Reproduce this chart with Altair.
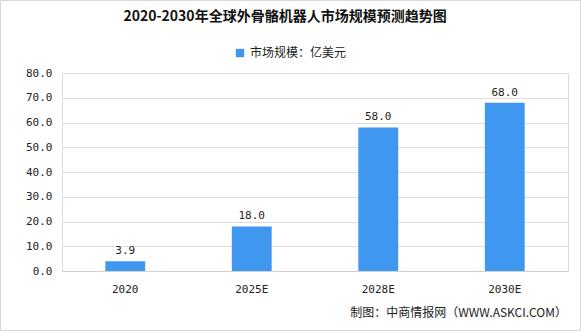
import altair as alt
import pandas as pd

categories = ["2020", "2025E", "2028E", "2030E"]
values = [3.9, 18.0, 58.0, 68.0]
series_name = "市场规模：亿美元"
title_text = ["2020-2030年全球外骨骼机器人市场规模预测趋势图"]
source_text = ["制图：中商情报网（WWW.ASKCI.COM）"]
y_ticks = [0, 10, 20, 30, 40, 50, 60, 70, 80]

df = pd.DataFrame({"year": categories, "value": values, "series": [series_name] * len(categories)})

CJK = "Noto Sans CJK SC"
MONO = "DejaVu Sans Mono"
BLUE = "#3f97f0"

x_axis = alt.Axis(title=None, labelAngle=0, ticks=False, domainColor="#d0d0d0",
                  labelFont=MONO, labelFontSize=11, labelColor="#222222",
                  labelPadding=12, grid=False)
y_axis = alt.Axis(title=None, values=y_ticks, format=".1f", ticks=False, domain=False,
                  labelFont=MONO, labelFontSize=11, labelColor="#222222",
                  labelOverlap=False, labelPadding=10, gridColor="#dcdcdc")
x_scale = alt.Scale(paddingInner=0.685, paddingOuter=0.3425)
y_scale = alt.Scale(domain=[0, 80], nice=False)

base = alt.Chart(df)

bars = base.mark_bar(color=BLUE).encode(
    x=alt.X("year:N", sort=categories, scale=x_scale, axis=x_axis),
    y=alt.Y("value:Q", scale=y_scale, axis=y_axis),
    color=alt.Color("series:N", scale=alt.Scale(range=[BLUE]),
                    legend=alt.Legend(title=None, orient="none", legendX=172, legendY=-26,
                                      symbolType="square", symbolSize=70, symbolStrokeWidth=0,
                                      labelFont=CJK, labelFontSize=12, labelColor="#222222")),
)

labels = base.mark_text(dy=-10, font=MONO, fontSize=11, color="#222222").encode(
    x=alt.X("year:N", sort=categories, scale=x_scale, axis=x_axis),
    y=alt.Y("value:Q", scale=y_scale, axis=y_axis),
    text=alt.Text("value:Q", format=".1f"),
)

title = alt.Chart(pd.DataFrame({"t": title_text})).mark_text(
    align="center", baseline="middle", font=CJK, fontSize=14, fontWeight="bold", color="#111111"
).encode(x=alt.value(223), y=alt.value(-56), text="t:N")

src = alt.Chart(pd.DataFrame({"t": source_text})).mark_text(
    align="right", baseline="middle", font=CJK, fontSize=12, color="#222222"
).encode(x=alt.value(505), y=alt.value(240), text="t:N")

border = alt.Chart(pd.DataFrame({"a": [0]})).mark_rect(
    fill=None, stroke="#d8d8d8", strokeWidth=1
).encode(x=alt.value(-61.5), x2=alt.value(518.5), y=alt.value(-72.5), y2=alt.value(257.5))

chart = alt.layer(bars, labels, title, src, border).properties(
    width=506, height=198,
    padding={"left": 62, "top": 73, "right": 13, "bottom": 60},
    autosize=alt.AutoSizeParams(type="none"),
).configure_view(stroke=None).configure(background="white")

chart.save("out.html", embed_options={"renderer": "svg", "actions": False})
